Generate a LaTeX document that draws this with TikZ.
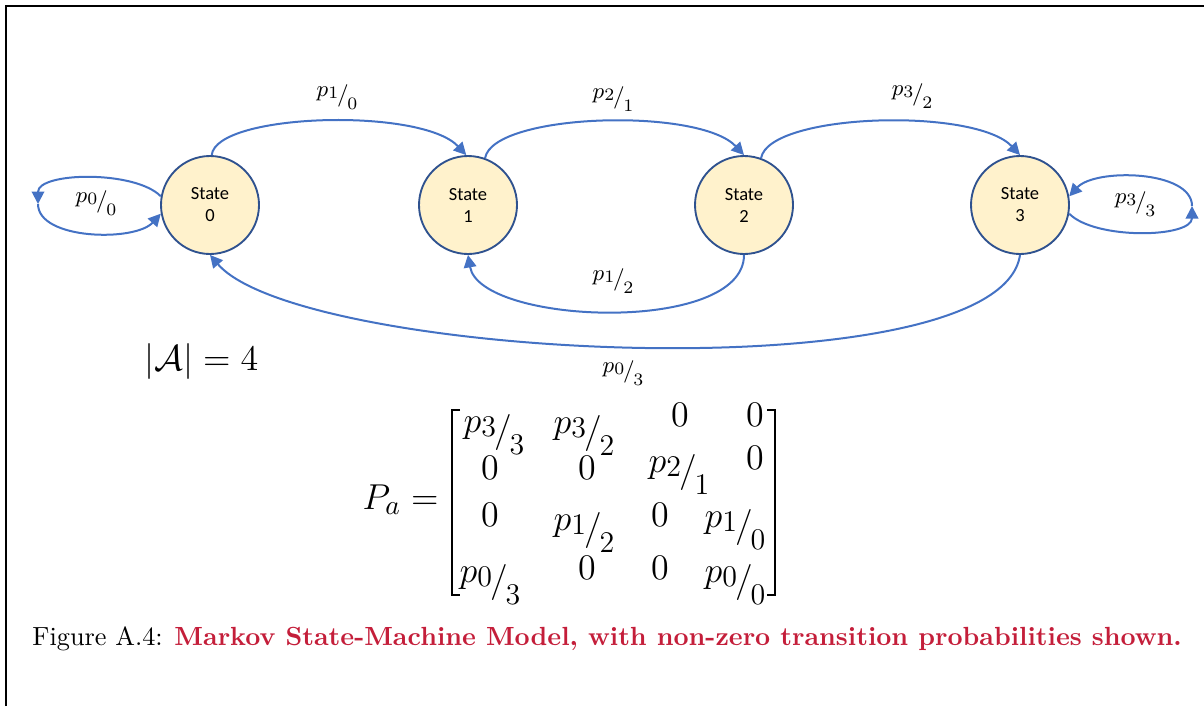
\documentclass[tikz,border=0pt]{standalone}
\usepackage{fontspec}
\usetikzlibrary{arrows.meta}
\newfontfamily\statefont{Carlito}
\definecolor{edgeblue}{HTML}{4472C4}
\definecolor{stateline}{HTML}{2F528F}
\definecolor{statefill}{HTML}{FFF2CC}
\definecolor{capred}{RGB}{196,30,58}
\renewcommand{\defaultscriptratio}{.78}
% transition probability p_{i/j}, written as a slanted fraction
\newcommand{\tp}[2]{p\lower0.25ex\hbox{$\scriptstyle #1$}\mkern-1mu\lower0.6ex\hbox{$/$}\mkern-1mu\lower1.4ex\hbox{$\scriptstyle #2$}}
\begin{document}
\begin{tikzpicture}[x=0.4pt,y=-0.4pt,
  state/.style={circle, draw=stateline, fill=statefill, line width=0.75pt,
    minimum size=39.2pt, inner sep=0pt, align=center,
    font=\statefont\fontsize{7.4}{8.8}\selectfont},
  trans/.style={draw=edgeblue, line width=0.8pt, -{Triangle[length=5pt,width=5pt]}},
  lbl/.style={inner sep=0pt, font=\fontsize{8.6}{10}\selectfont},
  entry/.style={anchor=base, inner sep=0pt, font=\fontsize{14}{16}\selectfont},
  pentry/.style={anchor=base, inner sep=0pt, font=\fontsize{15}{17}\selectfont},
  bracket/.style={line width=0.8pt}
]
\useasboundingbox (0,0) rectangle (1204,706);
% page frame
\draw[line width=0.6pt] (6,706) -- (6,6) -- (1204,6);

% states
\node[state] (s0) at (210,205) {State\\0};
\node[state] (s1) at (468,205) {State\\1};
\node[state] (s2) at (744,205) {State\\2};
\node[state] (s3) at (1020,205) {State\\3};

% forward transitions
\draw[trans] (s0.88) .. controls +(4,-42) and +(-45,-48) .. (s1.92);
\draw[trans] (s1.70) .. controls +(8,-45) and +(-45,-48) .. (s2.north);
\draw[trans] (s2.70) .. controls +(8,-45) and +(-45,-48) .. (s3.north);
% backward transitions
\draw[trans] (s2.south) .. controls +(0,80) and +(12,70) .. (s1.south);
\draw[trans] (s3.south) .. controls +(-20,140) and +(90,105) .. (s0.south);
% self loops
\coordinate (l0) at (38,204);
\draw[trans] (s0.170) .. controls (135,170) and (38,172) .. (l0);
\draw[trans] (l0) .. controls (38,240) and (135,242) .. (s0.190);
\coordinate (l3) at (1192,206);
\draw[trans] (s3.-10) .. controls (1095,240) and (1192,238) .. (l3);
\draw[trans] (l3) .. controls (1192,170) and (1095,168) .. (s3.10);

% transition labels
\node[lbl] (q00) at (96,203) {$\tp00$};
\node[lbl] (q10) at (337,97) {$\tp10$};
\node[lbl] (q21) at (613,99) {$\tp21$};
\node[lbl] (q32) at (912,96) {$\tp32$};
\node[lbl] (q33) at (1135,204) {$\tp33$};
\node[lbl] (q12) at (613,281) {$\tp12$};
\node[lbl] (q03) at (623,373) {$\tp03$};

% alphabet size
\node[anchor=base west, inner sep=0pt, font=\fontsize{14}{16}\selectfont] (card) at (144,370) {$|\mathcal{A}| = 4$};

% transition matrix
\node[anchor=base east, inner sep=0pt, font=\fontsize{14}{16}\selectfont] (pa) at (439,509) {$P_a =$};
\draw[bracket] (460,410) -- (452,410) -- (452,595) -- (460,595);
\draw[bracket] (767,410) -- (775,410) -- (775,595) -- (767,595);
\node[pentry] (m11) at (494,432) {$\tp33$};
\node[pentry] (m12) at (584,433) {$\tp32$};
\node[entry] (m13) at (680,426) {$0$};
\node[entry] (m14) at (755,426) {$0$};
\node[entry] (m21) at (490,479) {$0$};
\node[entry] (m22) at (587,479) {$0$};
\node[pentry] (m23) at (679,472) {$\tp21$};
\node[entry] (m24) at (755,469) {$0$};
\node[entry] (m31) at (490,526) {$0$};
\node[pentry] (m32) at (584,530) {$\tp12$};
\node[entry] (m33) at (660,526) {$0$};
\node[pentry] (m34) at (735,527) {$\tp10$};
\node[pentry] (m41) at (490,582) {$\tp03$};
\node[entry] (m42) at (587,579) {$0$};
\node[entry] (m43) at (660,579) {$0$};
\node[pentry] (m44) at (735,582) {$\tp00$};

% caption
\node[anchor=base west, inner sep=0pt, font=\fontsize{10.5}{12}\selectfont] (cap) at (32,645)
  {Figure A.4: \textcolor{capred}{\bfseries Markov State-Machine Model, with non-zero transition probabilities shown.}};
\end{tikzpicture}
\end{document}
